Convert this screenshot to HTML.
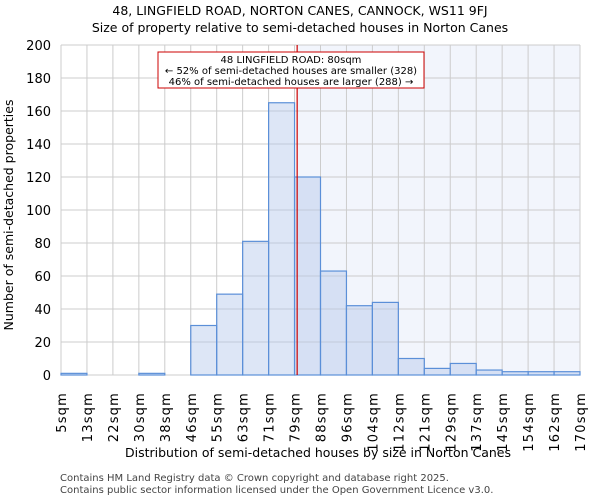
<!DOCTYPE html>
<html><head><meta charset="utf-8"><style>
body{margin:0;background:#fff;font-family:"DejaVu Sans","Liberation Sans",sans-serif}
</style></head><body>
<svg width="600" height="500" xmlns="http://www.w3.org/2000/svg" font-family="DejaVu Sans, Liberation Sans, sans-serif">
<g id="root"></g>
</svg>
<script>
const categories=["5sqm","13sqm","22sqm","30sqm","38sqm","46sqm","55sqm","63sqm","71sqm","79sqm","88sqm","96sqm","104sqm","112sqm","121sqm","129sqm","137sqm","145sqm","154sqm","162sqm","170sqm"];
const values=[1,0,0,1,0,30,49,81,165,120,63,42,44,10,4,7,3,2,2,2];
const yTicks=[0,20,40,60,80,100,120,140,160,180,200];
const propertyBin=9.1;
const NS="http://www.w3.org/2000/svg";
const root=document.getElementById('root');
const L=61,R=580,T=45,B=375,yMax=200;
const bw=(R-L)/values.length;
const x=i=>L+i*bw, y=v=>B-(v/yMax)*(B-T);
function el(t,a,txt){const e=document.createElementNS(NS,t);for(const k in a)e.setAttribute(k,a[k]);if(txt!==undefined)e.textContent=txt;root.appendChild(e);return e;}
let e;
e=el('text',{x:300,y:15,'text-anchor':'middle','font-size':12.5},'48, LINGFIELD ROAD, NORTON CANES, CANNOCK, WS11 9FJ');

e=el('text',{x:300,y:32,'text-anchor':'middle','font-size':12.5},'Size of property relative to semi-detached houses in Norton Canes');

const px=x(propertyBin);
e=el('rect',{x:px,y:T,width:R-px,height:B-T,fill:'#f2f5fc'});

yTicks.forEach(t=>{e=el('line',{x1:L,x2:R,y1:y(t),y2:y(t),stroke:'#ccc'});

e=el('text',{x:L-10,y:y(t)+5,'text-anchor':'end','font-size':13},t);
});
categories.forEach((c,i)=>{e=el('line',{x1:x(i),x2:x(i),y1:T,y2:B,stroke:'#ccc'});

e=el('text',{transform:`translate(${x(i)+5},${B+17}) rotate(-90)`,'text-anchor':'end','font-size':13,'letter-spacing':'1.2'},c);
});
values.forEach((v,i)=>{e=el('rect',{x:x(i),y:y(v),width:bw,height:B-y(v),fill:'rgba(180,200,235,0.45)',stroke:'#5b8fd8','stroke-width':1.2});
});
e=el('line',{x1:px,x2:px,y1:T,y2:B,stroke:'#cc0000','stroke-width':1.2});

e=el('rect',{x:158,y:52,width:266,height:36,fill:'#fff',stroke:'#cc0000'});

[['48 LINGFIELD ROAD: 80sqm',63],['← 52% of semi-detached houses are smaller (328)',74],['46% of semi-detached houses are larger (288) →',85]].forEach(([t,yy])=>{
e=el('text',{x:291,y:yy,'text-anchor':'middle','font-size':10},t);
});
e=el('text',{x:318,y:457,'text-anchor':'middle','font-size':12.5},'Distribution of semi-detached houses by size in Norton Canes');

e=el('text',{transform:'translate(13,215) rotate(-90)','text-anchor':'middle','font-size':12.5},'Number of semi-detached properties');

e=el('text',{x:60,y:481,'font-size':10,fill:'#444'},'Contains HM Land Registry data © Crown copyright and database right 2025.');

e=el('text',{x:60,y:493,'font-size':10,fill:'#444'},'Contains public sector information licensed under the Open Government Licence v3.0.');

</script>
</body></html>
